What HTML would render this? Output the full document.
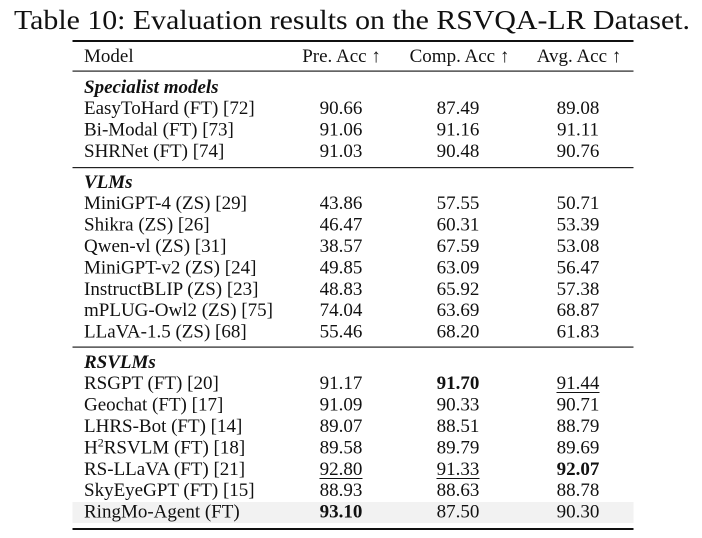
<!DOCTYPE html>
<html><head><meta charset="utf-8"><style>
html,body{margin:0;padding:0;background:#fff;}
svg{display:block;}
text{font-family:"Liberation Serif","Times New Roman",serif;fill:#111;}
.b{font-size:19px;}
.c{text-anchor:middle;}
.bd{font-weight:bold;}
.bi{font-weight:bold;font-style:italic;}
</style></head><body>
<svg width="702" height="538" viewBox="0 0 702 538" xmlns="http://www.w3.org/2000/svg">
<rect width="702" height="538" fill="#fff"/>
<text x="14" y="29" font-size="27" textLength="676" lengthAdjust="spacingAndGlyphs">Table 10: Evaluation results on the RSVQA-LR Dataset.</text>
<!-- rules -->
<rect x="72.5" y="40" width="561" height="2" fill="#111"/>
<rect x="72.5" y="70.5" width="561" height="1.2" fill="#222"/>
<rect x="72.5" y="167" width="561" height="1.2" fill="#222"/>
<rect x="72.5" y="346.5" width="561" height="1.2" fill="#222"/>
<rect x="72.5" y="502" width="561" height="21" fill="#f2f2f2"/>
<rect x="72.5" y="528" width="561" height="2" fill="#111"/>
<!-- header -->
<g class="b">
<text x="84" y="62">Model</text>
<text x="341.5" y="62" class="c">Pre. Acc ↑</text>
<text x="459.5" y="62" class="c">Comp. Acc ↑</text>
<text x="579" y="62" class="c">Avg. Acc ↑</text>

<text x="84" y="93" class="bi">Specialist models</text>
<text x="84" y="114">EasyToHard (FT) [72]</text>
<text x="341" y="114" class="c">90.66</text><text x="458" y="114" class="c">87.49</text><text x="578" y="114" class="c">89.08</text>
<text x="84" y="135.5">Bi-Modal (FT) [73]</text>
<text x="341" y="135.5" class="c">91.06</text><text x="458" y="135.5" class="c">91.16</text><text x="578" y="135.5" class="c">91.11</text>
<text x="84" y="157">SHRNet (FT) [74]</text>
<text x="341" y="157" class="c">91.03</text><text x="458" y="157" class="c">90.48</text><text x="578" y="157" class="c">90.76</text>

<text x="84" y="188" class="bi">VLMs</text>
<text x="84" y="209">MiniGPT-4 (ZS) [29]</text>
<text x="341" y="209" class="c">43.86</text><text x="458" y="209" class="c">57.55</text><text x="578" y="209" class="c">50.71</text>
<text x="84" y="230.5">Shikra (ZS) [26]</text>
<text x="341" y="230.5" class="c">46.47</text><text x="458" y="230.5" class="c">60.31</text><text x="578" y="230.5" class="c">53.39</text>
<text x="84" y="252">Qwen-vl (ZS) [31]</text>
<text x="341" y="252" class="c">38.57</text><text x="458" y="252" class="c">67.59</text><text x="578" y="252" class="c">53.08</text>
<text x="84" y="273.5">MiniGPT-v2 (ZS) [24]</text>
<text x="341" y="273.5" class="c">49.85</text><text x="458" y="273.5" class="c">63.09</text><text x="578" y="273.5" class="c">56.47</text>
<text x="84" y="295">InstructBLIP (ZS) [23]</text>
<text x="341" y="295" class="c">48.83</text><text x="458" y="295" class="c">65.92</text><text x="578" y="295" class="c">57.38</text>
<text x="84" y="316">mPLUG-Owl2 (ZS) [75]</text>
<text x="341" y="316" class="c">74.04</text><text x="458" y="316" class="c">63.69</text><text x="578" y="316" class="c">68.87</text>
<text x="84" y="337.5">LLaVA-1.5 (ZS) [68]</text>
<text x="341" y="337.5" class="c">55.46</text><text x="458" y="337.5" class="c">68.20</text><text x="578" y="337.5" class="c">61.83</text>

<text x="84" y="368" class="bi">RSVLMs</text>
<text x="84" y="389">RSGPT (FT) [20]</text>
<text x="341" y="389" class="c">91.17</text><text x="458" y="389" class="c bd">91.70</text><text x="578" y="389" class="c">91.44</text>
<text x="84" y="410.5">Geochat (FT) [17]</text>
<text x="341" y="410.5" class="c">91.09</text><text x="458" y="410.5" class="c">90.33</text><text x="578" y="410.5" class="c">90.71</text>
<text x="84" y="432">LHRS-Bot (FT) [14]</text>
<text x="341" y="432" class="c">89.07</text><text x="458" y="432" class="c">88.51</text><text x="578" y="432" class="c">88.79</text>
<text x="84" y="453.5">H<tspan font-size="12" dy="-7">2</tspan><tspan dy="7">RSVLM (FT) [18]</tspan></text>
<text x="341" y="453.5" class="c">89.58</text><text x="458" y="453.5" class="c">89.79</text><text x="578" y="453.5" class="c">89.69</text>
<text x="84" y="475">RS-LLaVA (FT) [21]</text>
<text x="341" y="475" class="c">92.80</text><text x="458" y="475" class="c">91.33</text><text x="578" y="475" class="c bd">92.07</text>
<text x="84" y="496">SkyEyeGPT (FT) [15]</text>
<text x="341" y="496" class="c">88.93</text><text x="458" y="496" class="c">88.63</text><text x="578" y="496" class="c">88.78</text>
<text x="84" y="517.5">RingMo-Agent (FT)</text>
<text x="341" y="517.5" class="c bd">93.10</text><text x="458" y="517.5" class="c">87.50</text><text x="578" y="517.5" class="c">90.30</text>
</g>
<!-- underlines -->
<rect x="556.5" y="392" width="43" height="1" fill="#111"/>
<rect x="319.5" y="478" width="43" height="1" fill="#111"/>
<rect x="436.5" y="478" width="43" height="1" fill="#111"/>
</svg>
</body></html>
